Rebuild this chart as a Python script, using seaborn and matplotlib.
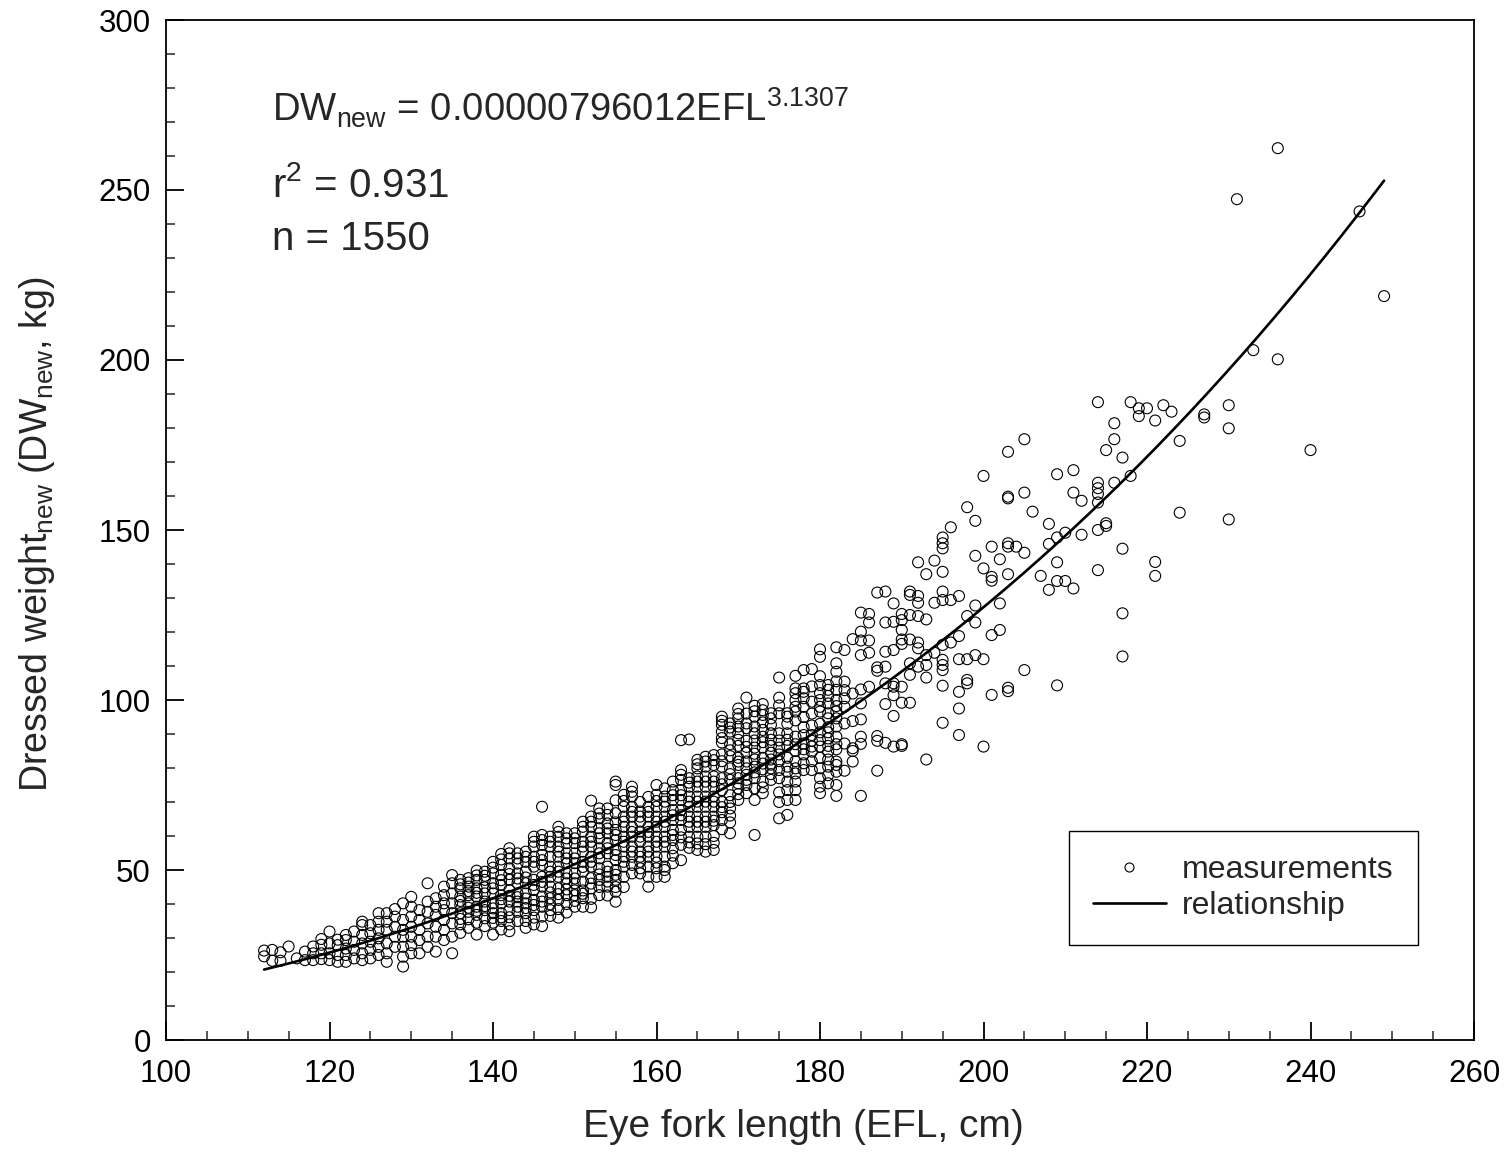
import numpy as np
import pandas as pd
import matplotlib
matplotlib.use("Agg")
import matplotlib.pyplot as plt
import seaborn as sns
from matplotlib.ticker import MultipleLocator
from matplotlib.lines import Line2D

# ---------------- data ----------------
# Eye fork length columns (cm) and dressed weights (kg) measured at each column
efl_cols_small = [112, 113, 114, 115, 116, 117, 118, 119, 120, 121, 122, 123, 124,
                  125, 126, 127, 128, 129, 130, 131, 132, 133, 134, 135]
dw_cols_small = [
    [26.3, 24.6], [26.5, 23.3], [25.8, 23.3], [27.5], [24.0], [26.0, 23.5],
    [27.5, 23.5, 25.5], [29.7, 28.0, 25.5, 23.8], [31.9, 28.4, 25.5, 23.5],
    [27.9, 25.0, 23.0, 29.5], [30.9, 29.4, 26.9, 25.0, 23.0], [31.9, 28.9, 26.5, 24.0],
    [34.8, 33.8, 30.9, 28.4, 25.5, 23.5], [33.8, 31.4, 28.9, 26.5, 24.0],
    [37.3, 34.8, 32.4, 29.9, 27.4, 25.0], [37.3, 34.8, 32.4, 28.4, 25.5, 23.0],
    [36.3, 33.3, 30.4, 27.4, 38.5], [40.2, 35.3, 32.4, 30.4, 27.4, 24.5, 21.6],
    [42.1, 39.2, 36.3, 33.3, 30.4, 27.9, 25.5], [38.2, 35.3, 32.4, 29.4, 25.5],
    [46.1, 40.7, 37.7, 34.3, 30.4, 27.4], [41.7, 39.2, 36.8, 33.3, 30.4, 26.0],
    [45.1, 42.6, 40.2, 38.2, 35.3, 32.4, 29.4], [48.5, 46.1, 43.1, 40.2, 37.3, 34.3, 30.4, 25.5],
]

efl_cols_mid = [136, 137, 138, 139, 140, 141, 142, 143, 144, 145, 146, 147, 148, 149,
                150, 151, 152, 153, 154, 155, 156, 157, 158, 159, 160, 161, 162, 163,
                164, 165, 166, 167]
dw_cols_mid = [
    [47.1, 44.6, 42.2, 39.7, 37.3, 34.0, 31.5],
    [47.6, 45.1, 42.6, 40.2, 37.7, 33.0, 35.5],
    [49.8, 47.1, 44.6, 42.2, 39.2, 36.8, 34.5, 31.0],
    [49.5, 47.1, 43.1, 40.7, 38.2, 33.5, 35.8],
    [52.4, 49.0, 46.1, 43.1, 40.2, 37.3, 34.5, 31.0],
    [54.7, 51.5, 48.5, 45.6, 42.6, 40.2, 37.3, 35.0, 32.5],
    [56.4, 53.4, 50.5, 47.1, 44.1, 40.7, 38.2, 34.0, 32.0],
    [54.9, 51.9, 49.0, 46.1, 43.1, 40.7, 37.7, 35.0],
    [55.4, 52.4, 49.5, 46.1, 43.1, 40.2, 37.3, 35.0, 33.0],
    [59.8, 56.9, 53.9, 51.0, 47.1, 44.1, 41.2, 38.2, 36.0, 34.0],
    [68.6, 60.3, 57.4, 54.4, 51.5, 48.0, 45.1, 42.2, 39.2, 36.3, 33.5],
    [59.8, 56.9, 53.9, 51.0, 48.0, 45.1, 41.7, 38.2, 36.5],
    [62.7, 59.8, 56.9, 53.9, 51.0, 48.0, 44.6, 41.2, 38.5, 36.0],
    [60.8, 57.9, 54.9, 52.0, 49.0, 46.1, 42.6, 40.0, 37.5],
    [60.8, 57.9, 54.9, 52.0, 49.0, 46.1, 42.6, 39.2],
    [64.2, 61.3, 58.3, 55.4, 52.4, 49.5, 46.6, 41.7, 39.2, 44.0],
    [70.4, 65.7, 62.7, 59.8, 56.9, 53.9, 51.0, 47.6, 44.6, 41.5, 39.0],
    [68.1, 65.2, 62.3, 59.3, 56.4, 53.4, 50.5, 47.1, 42.6, 45.0],
    [68.1, 66.2, 63.7, 60.8, 57.9, 54.9, 51.0, 48.0, 45.1, 42.5],
    [76.0, 75.0, 66.7, 61.8, 58.8, 55.9, 52.9, 50.0, 47.1, 43.6, 40.7, 64.0],
    [72.1, 68.6, 65.7, 62.7, 59.8, 56.9, 53.9, 51.0, 48.0, 45.0],
    [74.5, 71.6, 68.6, 65.7, 62.7, 59.8, 56.9, 53.9, 49.0, 51.5],
    [67.2, 64.2, 61.3, 58.3, 55.4, 52.4, 49.0, 70.0],
    [68.6, 65.7, 62.7, 59.8, 56.9, 53.9, 51.0, 45.1, 71.5],
    [75.0, 72.1, 68.6, 65.7, 62.7, 59.8, 56.9, 53.9, 50.5, 48.0],
    [71.6, 68.6, 65.7, 62.7, 59.8, 56.9, 53.9, 48.0, 51.0, 74.0],
    [76.0, 73.5, 70.6, 67.6, 64.7, 61.8, 58.8, 56.4, 52.0],
    [88.2, 79.4, 76.5, 73.5, 70.6, 67.6, 64.7, 61.8, 57.4, 52.9],
    [88.4, 77.0, 74.5, 71.6, 68.6, 65.7, 62.7, 59.8, 56.5],
    [82.4, 79.9, 77.5, 74.5, 71.6, 68.6, 65.7, 62.7, 59.8, 55.9],
    [83.3, 80.4, 77.5, 74.5, 71.6, 68.6, 65.7, 62.7, 59.8, 55.4],
    [83.8, 80.9, 77.5, 74.5, 71.6, 68.6, 65.7, 63.2, 55.9, 60.0],
]

efl_cols_upper = [168, 169, 170, 171, 172, 173, 174, 175, 176, 177, 178, 179, 180, 181, 182]
dw_cols_upper = [
    [95.1, 92.7, 90.7, 87.5, 84.0, 80.4, 77.0, 73.5, 70.0, 67.0, 64.7, 62.0],
    [93.1, 90.7, 87.0, 83.5, 79.9, 76.5, 72.0, 68.1, 64.0, 60.8],
    [97.5, 94.6, 92.2, 90.2, 86.5, 83.0, 80.9, 77.0, 74.0, 70.6],
    [100.7, 93.1, 91.7, 88.0, 84.5, 81.9, 78.0, 75.0, 72.6],
    [98.3, 95.1, 92.2, 90.2, 86.0, 82.5, 80.4, 77.0, 70.6, 60.3],
    [98.8, 95.6, 91.2, 89.2, 86.0, 83.0, 79.6, 76.0, 72.6],
    [96.1, 94.6, 92.7, 90.2, 86.5, 82.5, 79.9, 76.5],
    [106.6, 100.7, 96.1, 90.2, 86.0, 82.0, 79.4, 72.8, 65.2],
    [96.1, 95.1, 90.2, 86.5, 80.4, 78.9, 70.6, 66.2],
    [107.1, 103.4, 102.0, 98.0, 96.6, 89.2, 85.0, 79.9, 78.4, 73.5, 70.6],
    [108.8, 103.4, 102.4, 98.0, 89.7, 87.2, 81.4, 79.4],
    [109.1, 99.5, 89.7, 86.3, 84.8, 79.4],
    [114.9, 112.7, 104.4, 102.0, 98.0, 96.6, 88.2, 86.3, 79.9, 74.5, 72.6],
    [104.4, 103.0, 101.2, 99.0, 96.1, 94.6, 88.7, 84.8, 80.4, 77.9],
    [115.5, 110.8, 108.3, 103.0, 100.0, 96.6, 94.6, 92.2, 89.2, 81.9, 80.9, 78.9, 71.8],
]

# partly hidden, overlapping circles in the dense band (136-182 cm)
efl_cols_overlap = list(range(136, 183))
dw_cols_overlap = [
    [45.8, 40.9, 35.6], [46.3, 43.8, 38.9], [48.4, 43.3, 38.0], [48.3, 44.9, 39.4],
    [50.7, 44.6, 38.7, 35.9], [53.1, 47.0, 41.4, 36.1], [54.9, 48.8, 42.4, 36.1],
    [53.4, 47.5, 42.0, 39.2], [53.9, 47.8, 41.6, 38.8], [58.3, 52.4, 45.6, 39.7],
    [58.8, 52.9, 46.5, 40.7], [58.3, 49.5, 43.4, 39.9], [61.2, 55.4, 49.5, 42.9],
    [59.3, 53.4, 47.5, 44.3], [59.3, 53.4, 47.5, 44.0, 40.9], [62.7, 56.9, 50.9, 43.0],
    [64.2, 58.3, 52.4, 46.0], [66.6, 60.8, 54.9, 48.7], [62.2, 56.4, 49.5, 46.6],
    [70.5, 60.3, 54.4, 48.6, 45.0], [70.3, 64.2, 58.3, 52.4], [73.0, 67.1, 61.2, 55.4],
    [65.7, 59.8, 53.9, 50.5], [67.1, 61.2, 55.4, 48.0], [70.3, 64.2, 58.3, 52.2],
    [70.1, 64.2, 58.3, 50.0], [72.0, 66.1, 60.3, 54.2], [78.0, 72.0, 66.1, 59.6],
    [75.7, 70.1, 64.2, 58.1], [81.1, 76.0, 70.1, 64.2, 57.8], [81.9, 76.0, 70.1, 64.2, 57.6],
    [82.3, 76.0, 70.1, 64.5, 58.0], [93.9, 88.8, 82.0, 75.2, 68.5],
    [91.9, 85.2, 78.2, 70.0, 66.0], [95.9, 88.3, 81.9, 75.5, 72.3],
    [96.0, 86.2, 79.9, 76.5], [96.7, 88.1, 84.2, 78.7, 74.0],
    [97.0, 93.4, 87.6, 81.3, 74.3], [88.3, 84.5, 78.2, 81.0],
    [98.4, 88.1, 84.0, 77.0, 70.0], [93.0, 88.3, 83.0, 76.0, 73.5],
    [100.0, 94.0, 87.0, 82.0, 76.0], [100.5, 95.0, 92.0, 84.0, 85.5],
    [104.0, 96.0, 92.5, 82.0, 88.0], [107.0, 100.0, 93.0, 90.5, 83.0, 77.0],
    [92.0, 90.5, 86.5, 82.5, 75.5], [105.5, 98.2, 87.0, 85.5, 75.0],
]

efl_cols_large = [183, 184, 185, 186, 187, 188, 189, 190, 191, 192, 193, 194, 195, 196,
                  197, 198, 199, 200, 201, 202, 203, 204, 205, 206, 207, 208, 209, 210,
                  211, 212, 214, 215, 216, 217, 218, 219, 220, 221, 222, 223, 224, 227,
                  230, 231, 233, 236, 240, 246, 249]
dw_cols_large = [
    [114.7, 105.4, 102.9, 100.5, 98.0, 93.1, 87.2, 79.2],
    [117.9, 101.9, 93.8, 85.8, 85.0, 81.9],
    [125.7, 120.1, 117.5, 113.2, 103.1, 99.0, 94.3, 89.2, 87.1, 71.8],
    [125.3, 122.8, 117.5, 113.9, 103.9],
    [131.6, 109.6, 108.6, 89.4, 88.0, 79.2],
    [131.9, 122.8, 114.2, 109.8, 104.9, 98.8, 87.4],
    [128.4, 123.0, 114.7, 104.9, 103.9, 101.4, 95.3, 86.3],
    [116.5, 117.8, 120.6, 123.5, 125.3, 103.9, 99.2, 87.0, 86.5],
    [131.9, 130.9, 125.0, 117.8, 110.8, 107.4, 99.2],
    [140.5, 130.6, 128.6, 124.7, 116.9, 115.2, 109.8],
    [137.0, 123.7, 113.2, 110.3, 106.6, 82.5],
    [141.0, 128.6, 113.9],
    [147.8, 146.1, 144.6, 137.7, 131.9, 129.4, 116.2, 111.8, 110.3, 108.8, 104.2, 93.3],
    [150.8, 129.4, 116.9],
    [130.6, 118.8, 112.0, 102.4, 97.5, 89.7],
    [156.7, 124.7, 112.0, 105.9, 104.9],
    [152.7, 142.4, 127.8, 122.8, 113.2],
    [165.9, 138.7, 112.0, 86.3],
    [145.1, 136.2, 135.1, 119.1, 101.5],
    [141.4, 128.4, 120.6],
    [173.0, 159.8, 159.3, 146.1, 145.1, 137.0, 103.6, 102.6],
    [145.1],
    [176.7, 161.0, 143.3, 108.8],
    [155.4],
    [136.5],
    [151.8, 145.9, 132.4],
    [166.4, 147.8, 140.5, 135.0, 104.3],
    [149.2, 135.0],
    [167.6, 161.0, 132.8],
    [158.6, 148.6],
    [187.6, 163.9, 162.3, 160.6, 158.1, 150.0, 138.2],
    [173.5, 152.0, 151.2],
    [181.4, 176.7, 163.9],
    [171.3, 144.5, 125.5, 112.8],
    [187.6, 165.9],
    [185.8, 183.5],
    [185.8],
    [182.2, 140.6, 136.5],
    [186.7],
    [184.8],
    [176.2, 155.1],
    [184.0, 183.1],
    [186.7, 179.9, 153.1],
    [247.3],
    [202.9],
    [262.3, 200.2],
    [173.5],
    [243.7],
    [218.8],
]

# fitted relationship printed on the chart: DW_new = a * EFL^b
coef_a = 0.00000796012
coef_b = 3.1307
curve_efl_range = [112, 249]

x_ticks = [100, 120, 140, 160, 180, 200, 220, 240, 260]
y_ticks = [0, 50, 100, 150, 200, 250, 300]

# ---------------- build table ----------------
efl_vals, dw_vals = [], []
for cols, vals in [(efl_cols_small, dw_cols_small), (efl_cols_mid, dw_cols_mid),
                   (efl_cols_upper, dw_cols_upper), (efl_cols_overlap, dw_cols_overlap),
                   (efl_cols_large, dw_cols_large)]:
    for e, ys in zip(cols, vals):
        for y in ys:
            efl_vals.append(e)
            dw_vals.append(y)
df = pd.DataFrame({"EFL": efl_vals, "DW": dw_vals})

curve_x = np.linspace(curve_efl_range[0], curve_efl_range[1], 400)
curve = pd.DataFrame({"EFL": curve_x, "DW": coef_a * curve_x ** coef_b})

# ---------------- style ----------------
sns.set_style("white")
plt.rcParams["font.family"] = ["Liberation Sans", "DejaVu Sans"]
plt.rcParams["mathtext.default"] = "regular"

fig = plt.figure(figsize=(15.06, 11.56), dpi=100)
ax = fig.add_axes([166 / 1506, 1 - 1040 / 1156, (1474 - 166) / 1506, (1040 - 20) / 1156])

sns.scatterplot(data=df, x="EFL", y="DW", ax=ax, marker="o", s=62,
                facecolor="none", edgecolor="black", linewidth=0.8, legend=False)
for c in ax.collections:
    c.set_facecolor("none")
    c.set_edgecolor("black")
sns.lineplot(data=curve, x="EFL", y="DW", ax=ax, color="black", linewidth=1.9,
             legend=False)

ax.set_xlim(100, 260)
ax.set_ylim(0, 300)
ax.set_xticks(x_ticks)
ax.set_yticks(y_ticks)
ax.xaxis.set_minor_locator(MultipleLocator(5))
ax.yaxis.set_minor_locator(MultipleLocator(10))
ax.tick_params(axis="both", which="major", direction="in", length=13, width=1.3,
               labelsize=22.5, colors="black", top=False, right=False, bottom=True, left=True)
ax.tick_params(axis="both", which="minor", direction="in", length=6.5, width=1.1,
               top=False, right=False, bottom=True, left=True)
ax.tick_params(axis="x", which="major", pad=14)
ax.tick_params(axis="y", which="major", pad=11)
for sp in ax.spines.values():
    sp.set_visible(True)
    sp.set_color("black")
    sp.set_linewidth(1.3)

ax.set_xlabel("Eye fork length (EFL, cm)", fontsize=28, labelpad=14)
ax.xaxis.label.set_x(0.487)
ax.set_ylabel("Dressed weight$_{new}$ (DW$_{new}$, kg)", fontsize=27, labelpad=30)
ax.yaxis.label.set_y(0.496)

ax.text(0.081, 0.900, "DW$_{new}$ = 0.00000796012EFL$^{3.1307}$", transform=ax.transAxes,
        fontsize=27.5, va="baseline", ha="left")
ax.text(0.081, 0.826, "r$^{2}$ = 0.931", transform=ax.transAxes,
        fontsize=29, va="baseline", ha="left")
ax.text(0.081, 0.775, "n = 1550", transform=ax.transAxes,
        fontsize=29, va="baseline", ha="left")

handles = [
    Line2D([], [], marker="o", linestyle="none", markerfacecolor="none",
           markeredgecolor="black", markersize=6.5, markeredgewidth=0.8),
    Line2D([], [], color="black", linewidth=1.9),
]
leg = ax.legend(handles, ["measurements", "relationship"], loc="lower right",
                bbox_to_anchor=(0.957, 0.093), fontsize=23, frameon=True,
                fancybox=False, framealpha=1, edgecolor="black", borderpad=0.75,
                labelspacing=0.2, handlelength=2.3, handletextpad=0.5,
                borderaxespad=0)
leg.get_frame().set_linewidth(1.0)

fig.savefig("out.png", dpi=100)
